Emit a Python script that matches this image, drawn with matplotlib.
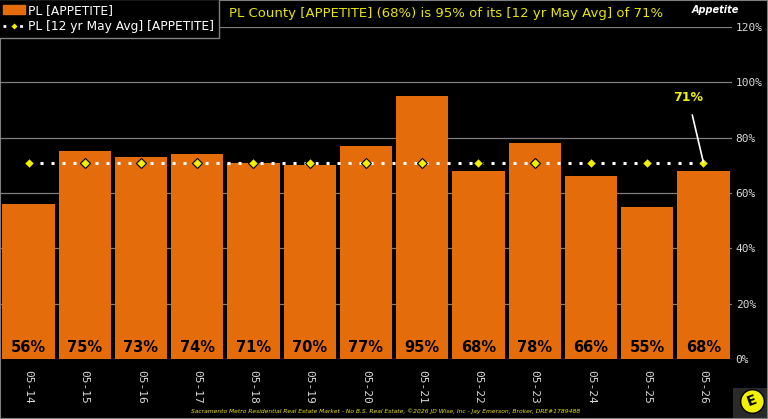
import matplotlib
matplotlib.use("Agg")
import matplotlib.pyplot as plt
from matplotlib.patches import Rectangle, Patch
from matplotlib.lines import Line2D

# data
periods = ["05-14", "05-15", "05-16", "05-17", "05-18", "05-19", "05-20",
           "05-21", "05-22", "05-23", "05-24", "05-25", "05-26"]
appetite = [56, 75, 73, 74, 71, 70, 77, 95, 68, 78, 66, 55, 68]
avg_12yr = [71] * len(periods)
y_ticks = [0, 20, 40, 60, 80, 100, 120]

ORANGE = "#E46C0A"
YELLOW = "#F0F000"
GRID = "#7f7f7f"

fig = plt.figure(figsize=(7.68, 4.19), dpi=100, facecolor="black")
ax = fig.add_axes([0.0005, 0.1432, 0.952, 0.7924])
ax.set_facecolor("black")

x = list(range(len(periods)))
for t in y_ticks:
    ax.axhline(t, color=GRID, linewidth=0.9, zorder=0.5)
ax.bar(x, appetite, width=0.93, color=ORANGE, zorder=2)
ax.plot(x, avg_12yr, color="white", linestyle=(0, (1, 2.6)), linewidth=2.2,
        marker="D", markersize=5, markerfacecolor=YELLOW,
        markeredgecolor="black", markeredgewidth=0.8, zorder=3)

for xi, v in zip(x, appetite):
    ax.text(xi, 4, f"{v}%", ha="center", va="center", fontsize=10.5,
            fontweight="bold", color="black", zorder=4)

ax.annotate(f"{avg_12yr[-1]}%", xy=(x[-1], avg_12yr[-1]),
            xytext=(x[-1] - 0.27, 94.5), ha="center", va="center",
            fontsize=9, fontweight="bold", color=YELLOW,
            arrowprops=dict(arrowstyle="-", color="white", lw=1.2,
                            shrinkA=6, shrinkB=0), zorder=5)

ax.set_xlim(-0.5, len(periods) - 0.5)
ax.set_ylim(0, 120)
ax.yaxis.tick_right()
ax.set_yticks(y_ticks)
ax.set_yticklabels([f"{t}%" for t in y_ticks], family="DejaVu Sans Mono",
                   fontsize=8, color="#d9d9d9")
ax.set_xticks(x)
ax.set_xticklabels(periods, rotation=270, family="DejaVu Sans Mono",
                   fontsize=8, color="#d9d9d9")
ax.tick_params(axis="both", length=0, pad=8)
ax.tick_params(axis="y", pad=3)
for s in ax.spines.values():
    s.set_visible(False)

# title and header text
fig.text(229 / 768, 1 - 14 / 419,
         "PL County [APPETITE] (68%) is 95% of its [12 yr May Avg] of 71%",
         color="#E6E600", fontsize=9.5, va="center", ha="left")
fig.text(715 / 768, 1 - 10 / 419, "Appetite", color="white", fontsize=7,
         fontweight="bold", style="italic", ha="center", va="center")

# legend
handles = [Patch(facecolor=ORANGE, edgecolor=ORANGE),
           Line2D([0], [0], color="white", linestyle=(0, (1, 2)), lw=2,
                  marker="D", markersize=4, markerfacecolor=YELLOW,
                  markeredgecolor="black")]
leg = fig.legend(handles, ["PL [APPETITE]", "PL [12 yr May Avg] [APPETITE]"],
                 loc="upper left", bbox_to_anchor=(-0.002, 1.003),
                 frameon=True, fancybox=False, fontsize=8.8,
                 handlelength=1.8, handletextpad=0.2, borderpad=0.4,
                 labelspacing=0.3, borderaxespad=0)
leg.get_frame().set_facecolor("black")
leg.get_frame().set_edgecolor(GRID)
leg.get_frame().set_alpha(1)
for t in leg.get_texts():
    t.set_color("white")

# footer
fig.text(386 / 768, 1 - 411 / 419,
         "Sacramento Metro Residential Real Estate Market - No B.S. Real Estate, "
         "\u00a92026 JD Wise, Inc - Jay Emerson, Broker, DRE#1789488",
         color="#E6E600", fontsize=4.3, style="italic", ha="center", va="center")

# logo
fig.patches.append(Rectangle((733 / 768, 1 - 418 / 419), 34 / 768, 30 / 419,
                             transform=fig.transFigure, facecolor="#2a2a2a",
                             edgecolor="none"))
fig.add_artist(Line2D([752 / 768], [1 - 401 / 419], transform=fig.transFigure,
                      marker="o", markersize=17, markerfacecolor=YELLOW,
                      markeredgecolor="black", linestyle="none"))
fig.text(752 / 768, 1 - 401 / 419, "E", color="black", fontsize=10,
         fontweight="bold", ha="center", va="center", rotation=20)

# outer border
fig.patches.append(Rectangle((0, 0), 1, 1, transform=fig.transFigure,
                             fill=False, edgecolor=GRID, linewidth=1.5))

fig.savefig("out.png", dpi=100, facecolor="black")
